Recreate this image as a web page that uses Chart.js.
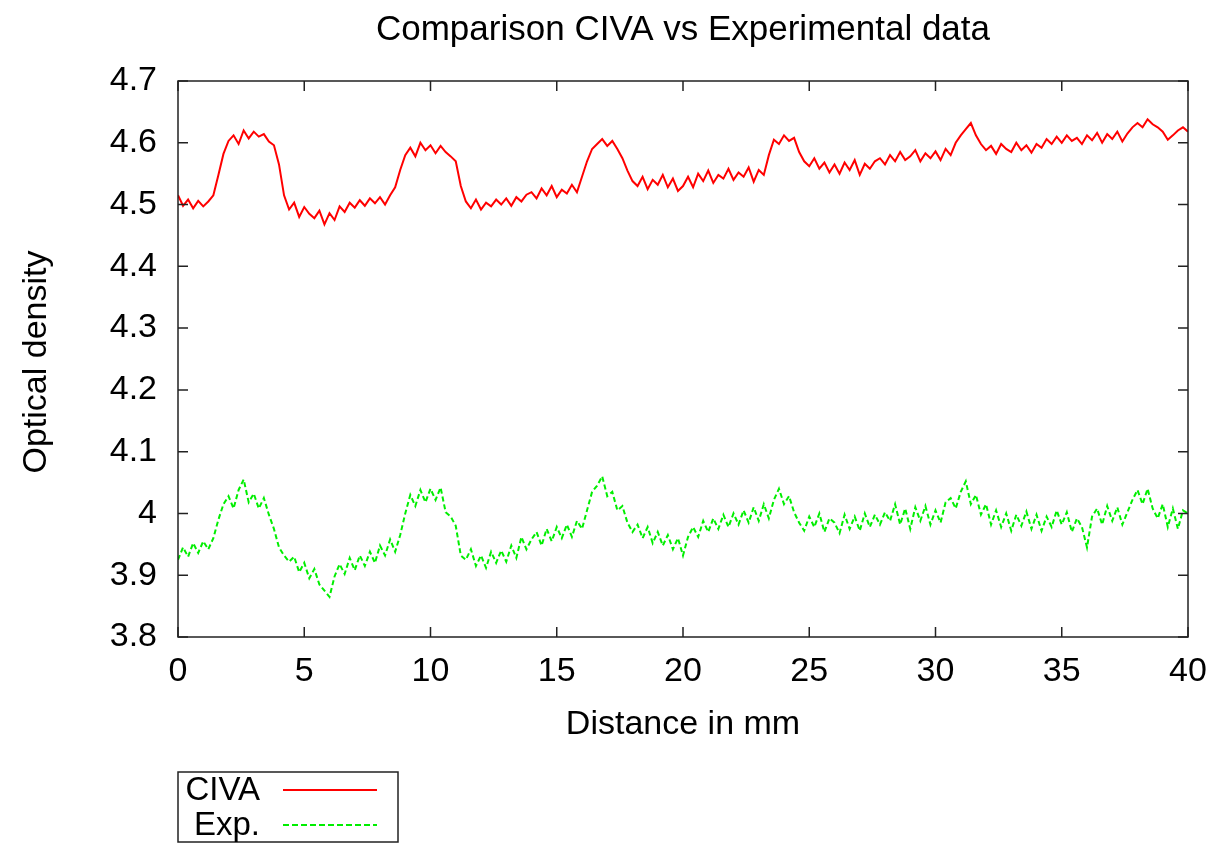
<!DOCTYPE html>
<html>
<head>
<meta charset="utf-8">
<script src="https://cdn.jsdelivr.net/npm/chart.js@4.4.0/dist/chart.umd.min.js"></script>
<style>
  html, body { margin: 0; padding: 0; background: #fff; }
  #wrap { width: 1221px; height: 850px; }
</style>
</head>
<body>
<div id="wrap"><canvas id="chart" width="1221" height="850"></canvas></div>
<script>
// Optical density, one value every 0.2 mm from 0 to 40 mm
const civa = [
  4.515, 4.498, 4.508, 4.494, 4.506, 4.497, 4.505, 4.515, 4.548, 4.582,
  4.603, 4.612, 4.598, 4.620, 4.607, 4.618, 4.610, 4.614, 4.602, 4.596,
  4.565, 4.515, 4.492, 4.503, 4.480, 4.496, 4.485, 4.478, 4.490, 4.468,
  4.486, 4.475, 4.497, 4.488, 4.503, 4.495, 4.507, 4.498, 4.510, 4.502,
  4.512, 4.500, 4.515, 4.528, 4.556, 4.580, 4.592, 4.578, 4.600, 4.588,
  4.596, 4.583, 4.595, 4.585, 4.578, 4.570, 4.530, 4.505, 4.494, 4.508,
  4.492, 4.503, 4.497, 4.508, 4.500, 4.510, 4.498, 4.512, 4.505, 4.516,
  4.520, 4.510, 4.526, 4.515, 4.530, 4.512, 4.524, 4.518, 4.532, 4.520,
  4.545, 4.570, 4.590, 4.598, 4.606, 4.595, 4.603, 4.590, 4.575, 4.555,
  4.538, 4.530, 4.545, 4.525, 4.540, 4.532, 4.548, 4.528, 4.542, 4.522,
  4.530, 4.545, 4.528, 4.550, 4.538, 4.555, 4.535, 4.548, 4.542, 4.558,
  4.540, 4.552, 4.545, 4.560, 4.537, 4.556, 4.548, 4.580, 4.605, 4.598,
  4.612, 4.603, 4.608, 4.585, 4.570, 4.562, 4.575, 4.558, 4.568, 4.552,
  4.565, 4.550, 4.568, 4.556, 4.572, 4.548, 4.566, 4.558, 4.570, 4.575,
  4.565, 4.580, 4.570, 4.585, 4.572, 4.578, 4.588, 4.570, 4.583, 4.575,
  4.586, 4.572, 4.590, 4.580, 4.600, 4.612, 4.622, 4.632, 4.612, 4.598,
  4.588, 4.595, 4.582, 4.598, 4.590, 4.585, 4.600, 4.588, 4.596, 4.584,
  4.598, 4.592, 4.606, 4.598, 4.610, 4.600, 4.612, 4.603, 4.608, 4.598,
  4.612, 4.604, 4.616, 4.600, 4.614, 4.606, 4.618, 4.602, 4.615, 4.625,
  4.632, 4.625, 4.638, 4.630, 4.625, 4.618, 4.605, 4.612, 4.620, 4.625,
  4.618
];

const experimental = [
  3.925, 3.945, 3.930, 3.952, 3.936, 3.955, 3.942, 3.960, 3.990, 4.015,
  4.028, 4.008, 4.038, 4.055, 4.018, 4.032, 4.008, 4.025, 3.998, 3.975,
  3.945, 3.932, 3.922, 3.930, 3.905, 3.920, 3.895, 3.910, 3.885, 3.875,
  3.865, 3.898, 3.918, 3.902, 3.928, 3.908, 3.932, 3.915, 3.938, 3.920,
  3.948, 3.932, 3.958, 3.938, 3.965, 4.000, 4.030, 4.012, 4.038, 4.018,
  4.040, 4.022, 4.042, 4.002, 3.995, 3.980, 3.932, 3.925, 3.942, 3.915,
  3.932, 3.912, 3.938, 3.920, 3.940, 3.922, 3.948, 3.928, 3.962, 3.942,
  3.958, 3.970, 3.948, 3.975, 3.955, 3.978, 3.960, 3.982, 3.962, 3.988,
  3.975, 4.005, 4.035, 4.045, 4.060, 4.028, 4.035, 4.005, 4.012, 3.985,
  3.970, 3.982, 3.960, 3.978, 3.952, 3.970, 3.948, 3.965, 3.942, 3.960,
  3.932, 3.962, 3.978, 3.962, 3.988, 3.970, 3.992, 3.975, 3.998, 3.978,
  4.000, 3.982, 4.005, 3.985, 4.010, 3.988, 4.015, 3.992, 4.022, 4.040,
  4.015, 4.028, 4.002, 3.985, 3.972, 3.995, 3.978, 4.000, 3.970, 3.992,
  3.985, 3.968, 3.998, 3.975, 3.995, 3.972, 4.000, 3.978, 3.998, 3.982,
  4.002, 3.988, 4.015, 3.982, 4.008, 3.975, 4.010, 3.988, 4.012, 3.982,
  4.005, 3.985, 4.018, 4.025, 4.008, 4.035, 4.052, 4.015, 4.030, 3.998,
  4.015, 3.982, 4.005, 3.978, 4.000, 3.972, 3.998, 3.980, 4.003, 3.975,
  3.998, 3.972, 3.995, 3.978, 4.005, 3.982, 4.002, 3.970, 3.992, 3.978,
  3.945, 3.995, 4.008, 3.982, 4.012, 3.988, 4.010, 3.982, 4.002, 4.022,
  4.038, 4.015, 4.040, 4.008, 3.992, 4.015, 3.978, 4.008, 3.975, 4.005,
  4.000
];

// sampling grid in mm
const distance = civa.map((v, i) => +(i * 0.2).toFixed(1));

const xTicks = [0, 5, 10, 15, 20, 25, 30, 35, 40];
const yTicks = [3.8, 3.9, 4.0, 4.1, 4.2, 4.3, 4.4, 4.5, 4.6, 4.7];

const seriesNames = ['CIVA', 'Exp.'];
const seriesColors = ['#ff0000', '#00ee00'];

const FONT = "'Liberation Sans', Arial, sans-serif";

// Cadre, graduations, titres et légende façon gnuplot
const gnuplotFrame = {
    id: 'gnuplotFrame',
    afterDatasetsDraw(chart) {
        const ctx = chart.ctx;
        const a = chart.chartArea;
        const sx = chart.scales.x, sy = chart.scales.y;
        ctx.save();
        ctx.strokeStyle = '#222';
        ctx.lineWidth = 1.5;
        ctx.strokeRect(a.left, a.top, a.right - a.left, a.bottom - a.top);

        ctx.beginPath();
        xTicks.forEach(v => {
            const px = sx.getPixelForValue(v);
            ctx.moveTo(px, a.bottom); ctx.lineTo(px, a.bottom - 10);
            ctx.moveTo(px, a.top); ctx.lineTo(px, a.top + 10);
        });
        yTicks.forEach(v => {
            const py = sy.getPixelForValue(v);
            ctx.moveTo(a.left, py); ctx.lineTo(a.left + 10, py);
            ctx.moveTo(a.right, py); ctx.lineTo(a.right - 10, py);
        });
        ctx.stroke();

        ctx.fillStyle = '#000';
        ctx.font = '35px ' + FONT;
        ctx.textAlign = 'center';
        ctx.textBaseline = 'middle';
        ctx.fillText('Comparison CIVA vs Experimental data', 683, 30);
        ctx.font = '34px ' + FONT;
        ctx.fillText('Distance in mm', 683, 725);

        ctx.save();
        ctx.translate(37, 362);
        ctx.rotate(-Math.PI / 2);
        ctx.fillText('Optical density', 0, 0);
        ctx.restore();

        // légende
        ctx.strokeStyle = '#222';
        ctx.lineWidth = 1.5;
        ctx.strokeRect(178, 772, 220, 70);
        ctx.textAlign = 'right';
        ctx.font = '33px ' + FONT;
        const rows = [790, 825];
        seriesNames.forEach((name, i) => {
            ctx.fillStyle = '#000';
            ctx.fillText(name, 260, rows[i] + 1);
            ctx.strokeStyle = seriesColors[i];
            ctx.lineWidth = 2;
            ctx.setLineDash(i === 1 ? [6, 3] : []);
            ctx.beginPath();
            ctx.moveTo(283, rows[i]);
            ctx.lineTo(377, rows[i]);
            ctx.stroke();
        });
        ctx.restore();
    }
};

new Chart(document.getElementById('chart'), {
    type: 'line',
    data: {
        datasets: [
            {
                label: seriesNames[0],
                data: distance.map((d, i) => ({ x: d, y: civa[i] })),
                borderColor: seriesColors[0],
                borderWidth: 2,
                pointRadius: 0,
                tension: 0
            },
            {
                label: seriesNames[1],
                data: distance.map((d, i) => ({ x: d, y: experimental[i] })),
                borderColor: seriesColors[1],
                borderWidth: 2,
                borderDash: [5, 3],
                pointRadius: 0,
                tension: 0
            }
        ]
    },
    options: {
        responsive: false,
        animation: false,
        devicePixelRatio: 1,
        layout: { padding: { left: 0, top: 81, right: 33, bottom: 0 } },
        plugins: {
            legend: { display: false },
            title: { display: false },
            tooltip: { enabled: false }
        },
        scales: {
            x: {
                type: 'linear',
                min: 0,
                max: 40,
                afterFit: s => { s.height = 213; s.paddingLeft = 0; s.paddingRight = 0; },
                afterBuildTicks: s => { s.ticks = xTicks.map(v => ({ value: v })); },
                grid: { display: false, drawTicks: false },
                border: { display: false },
                ticks: {
                    color: '#000',
                    padding: 14,
                    maxRotation: 0,
                    font: { family: FONT, size: 34 }
                }
            },
            y: {
                min: 3.8,
                max: 4.7,
                afterFit: s => { s.width = 178; s.paddingTop = 0; s.paddingBottom = 0; },
                afterBuildTicks: s => { s.ticks = yTicks.map(v => ({ value: v })); },
                grid: { display: false, drawTicks: false },
                border: { display: false },
                ticks: {
                    color: '#000',
                    padding: 21,
                    font: { family: FONT, size: 34 },
                    callback: v => String(Number(v.toFixed(1)))
                }
            }
        }
    },
    plugins: [gnuplotFrame]
});
</script>
</body>
</html>
